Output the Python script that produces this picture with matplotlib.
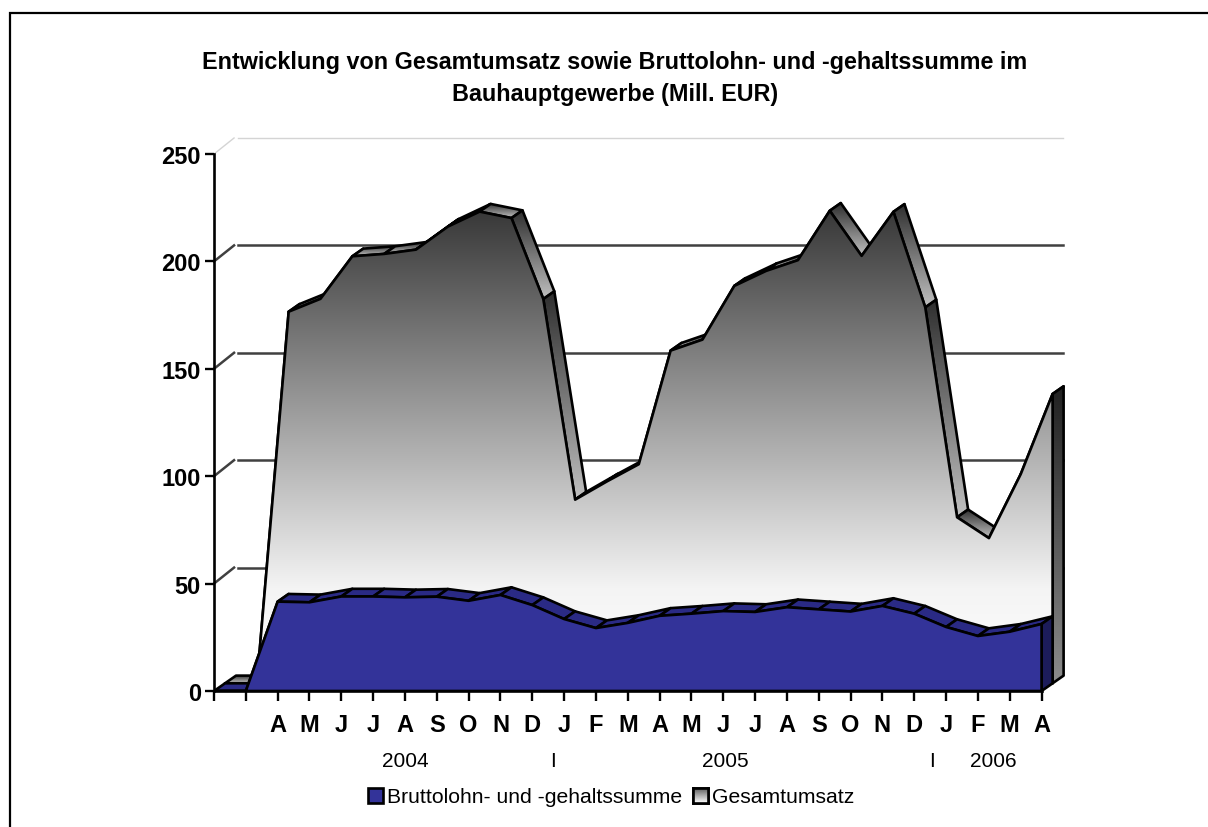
import numpy as np
from matplotlib import pyplot as plt
from matplotlib.colors import LinearSegmentedColormap
from matplotlib.lines import Line2D
from matplotlib.patches import Polygon, Rectangle

plt.rcParams['font.family'] = ['Liberation Sans', 'DejaVu Sans']

# tick labels
months = ['', '', 'A', 'M', 'J', 'J', 'A', 'S', 'O', 'N', 'D', 'J', 'F', 'M',
          'A', 'M', 'J', 'J', 'A', 'S', 'O', 'N', 'D', 'J', 'F', 'M', 'A']
years = ['2004', 'I', '2005', 'I', '2006']
year_pos = [6.0, 10.65, 16.05, 22.55, 24.47]
y_ticks = [0, 50, 100, 150, 200, 250]

# series values (Mill. EUR)
gesamt = [0, 0, 173, 179, 198.8, 199.9, 201.9, 212.6, 219.6, 216.6, 178.9, 85.5, 94,
          102, 154.9, 160, 185, 192, 197, 220, 199, 219.5, 175, 77.3, 67.6, 97.4, 134.7]
brutto = [0, 0, 41.6, 41.3, 44, 44, 43.6, 43.9, 42, 44.7, 40, 33.5, 29.3,
          31.7, 35, 36, 37.2, 36.8, 39, 38, 37, 39.6, 36, 29.8, 25.6, 27.6, 31.2]

# pixel scale of the plot and depth of the fake 3d
step_px = 31.83
unit_px = 2.148
dep_x = 0.346
dep_y = 3.58
lw_ink = 1.9

ink = 'black'
blue = '#333399'
blue_top = '#2a2a85'
blue_side = '#1c1c5a'
grid_col = '#404040'

cm_face = LinearSegmentedColormap.from_list('face', [(0, '#383838'), (0.8, '#f4f4f4'), (1, '#ffffff')])
cm_ribbon = LinearSegmentedColormap.from_list('ribbon', ['#2e2e2e', '#c0c0c0'])
cm_side = LinearSegmentedColormap.from_list('side', ['#202020', '#8c8c8c'])
cm_legend = LinearSegmentedColormap.from_list('leg', ['#505050', '#ffffff'])
grad = np.linspace(0, 1, 256)[:, None]

fig = plt.figure(figsize=(12.08, 8.28), dpi=100)
fig.patch.set_facecolor('white')

# chart border, only left and top are inside the picture
fig.add_artist(Line2D([10 / 1208, 10 / 1208, 1], [0, 1 - 14 / 828, 1 - 14 / 828], transform=fig.transFigure,
                      color=ink, linewidth=1.6, solid_joinstyle='miter'))

xmax = 26.8
ymax = 258
ax = fig.add_axes([214 / 1208, (828 - 692) / 828, step_px * xmax / 1208, unit_px * ymax / 828])
ax.patch.set_alpha(0)


def grad_poly(pts, cmap):
    # polygon with a vertical gradient, clipped by the outline
    pts = np.array(pts)
    im = ax.imshow(grad, cmap=cmap, vmin=0, vmax=1, aspect='auto', interpolation='bilinear',
                   extent=(pts[:, 0].min(), pts[:, 0].max(), pts[:, 1].min(), pts[:, 1].max()), zorder=zo[0])
    ax.add_patch(Polygon(pts, closed=True, facecolor='none', edgecolor=ink, linewidth=lw_ink, zorder=zo[0] + 0.1,
                         joinstyle='round'))
    im.set_clip_path(Polygon(pts, closed=True, transform=ax.transData))
    zo[0] += 0.2


def flat_poly(pts, color):
    ax.add_patch(Polygon(pts, closed=True, facecolor=color, edgecolor=ink, linewidth=lw_ink, zorder=zo[0],
                         joinstyle='round'))
    zo[0] += 0.2


zo = [5]

# back wall
for v in y_ticks[1:]:
    col = grid_col if v < 250 else '#d4d4d4'
    lw = 1.8 if v < 250 else 1.0
    ax.plot([0, 0.63], [v, v + 7.45], color=col, linewidth=lw, zorder=1, clip_on=False)
    ax.plot([0.74, 26.66], [v + 7.45, v + 7.45], color=col, linewidth=lw, zorder=1)

xs = np.arange(len(gesamt))
g = np.array(gesamt, dtype=float)
b = np.array(brutto, dtype=float)

# Gesamtumsatz, back series
for i in xs[:-1]:
    grad_poly([(i + dep_x, g[i] + dep_y), (i + 1 + dep_x, g[i + 1] + dep_y),
               (i + 1 + 2 * dep_x, g[i + 1] + 2 * dep_y), (i + 2 * dep_x, g[i] + 2 * dep_y)], cm_ribbon)
grad_poly([(26 + dep_x, dep_y), (26 + 2 * dep_x, 2 * dep_y),
           (26 + 2 * dep_x, g[-1] + 2 * dep_y), (26 + dep_x, g[-1] + dep_y)], cm_side)
face = [(0 + dep_x, dep_y)] + [(x + dep_x, v + dep_y) for x, v in zip(xs, g)] + [(26 + dep_x, dep_y)]
grad_poly(face, cm_face)

# Bruttolohn, front series
for i in xs[:-1]:
    flat_poly([(i, b[i]), (i + 1, b[i + 1]), (i + 1 + dep_x, b[i + 1] + dep_y), (i + dep_x, b[i] + dep_y)], blue_top)
flat_poly([(26, 0), (26 + dep_x, dep_y), (26 + dep_x, b[-1] + dep_y), (26, b[-1])], blue_side)
flat_poly([(0, 0)] + list(zip(xs, b)) + [(26, 0)], blue)

ax.set_xlim(0, xmax)
ax.set_ylim(0, ymax)

for s in ['top', 'right']:
    ax.spines[s].set_visible(False)
ax.spines['left'].set_bounds(0, 250)
ax.spines['bottom'].set_bounds(0, 26)
for s in ['left', 'bottom']:
    ax.spines[s].set_linewidth(lw_ink)
    ax.spines[s].set_zorder(50)

ax.set_xticks(xs)
ax.set_xticklabels(months, fontsize=17, fontweight='bold')
ax.set_yticks(y_ticks)
ax.set_yticklabels(y_ticks, fontsize=17, fontweight='bold')
ax.tick_params(axis='x', length=7, width=1.7, pad=8.5)
ax.tick_params(axis='y', length=6.5, width=1.7, pad=3)

# year row under the months
year_tf = ax.get_xaxis_transform()
for lab, x in zip(years, year_pos):
    ax.text(x, -69.5 / (unit_px * ymax), lab, transform=year_tf, ha='center', va='center', fontsize=15)

fig.text(615 / 1208, 1 - 78 / 828, 'Entwicklung von Gesamtumsatz sowie Bruttolohn- und -gehaltssumme im\nBauhauptgewerbe (Mill. EUR)',
         ha='center', va='center', fontsize=16.85, fontweight='bold', linespacing=1.5)

# legend, second swatch gets its gradient afterwards
h1 = Rectangle((0, 0), 1, 1, facecolor=blue, edgecolor=ink, linewidth=lw_ink)
h2 = Rectangle((0, 0), 1, 1, facecolor='#c0c0c0', edgecolor=ink, linewidth=lw_ink)
leg = fig.legend([h1, h2], ['Bruttolohn- und -gehaltssumme', 'Gesamtumsatz'], loc='center',
                 bbox_to_anchor=(611 / 1208, 1 - 798 / 828), ncol=2, frameon=False, fontsize=15.2,
                 handlelength=0.72, handleheight=0.72, handletextpad=0.2, columnspacing=0.5, borderpad=0)
fig.canvas.draw()
bb = leg.legend_handles[1].get_window_extent()
sw = fig.add_axes([bb.x0 / 1208, bb.y0 / 828, bb.width / 1208, bb.height / 828])
sw.set_zorder(10)
sw.imshow(grad, cmap=cm_legend, vmin=0, vmax=1, aspect='auto')
sw.set_xticks([])
sw.set_yticks([])
for s in sw.spines.values():
    s.set_linewidth(lw_ink)

fig.savefig('out.png', dpi=100)
